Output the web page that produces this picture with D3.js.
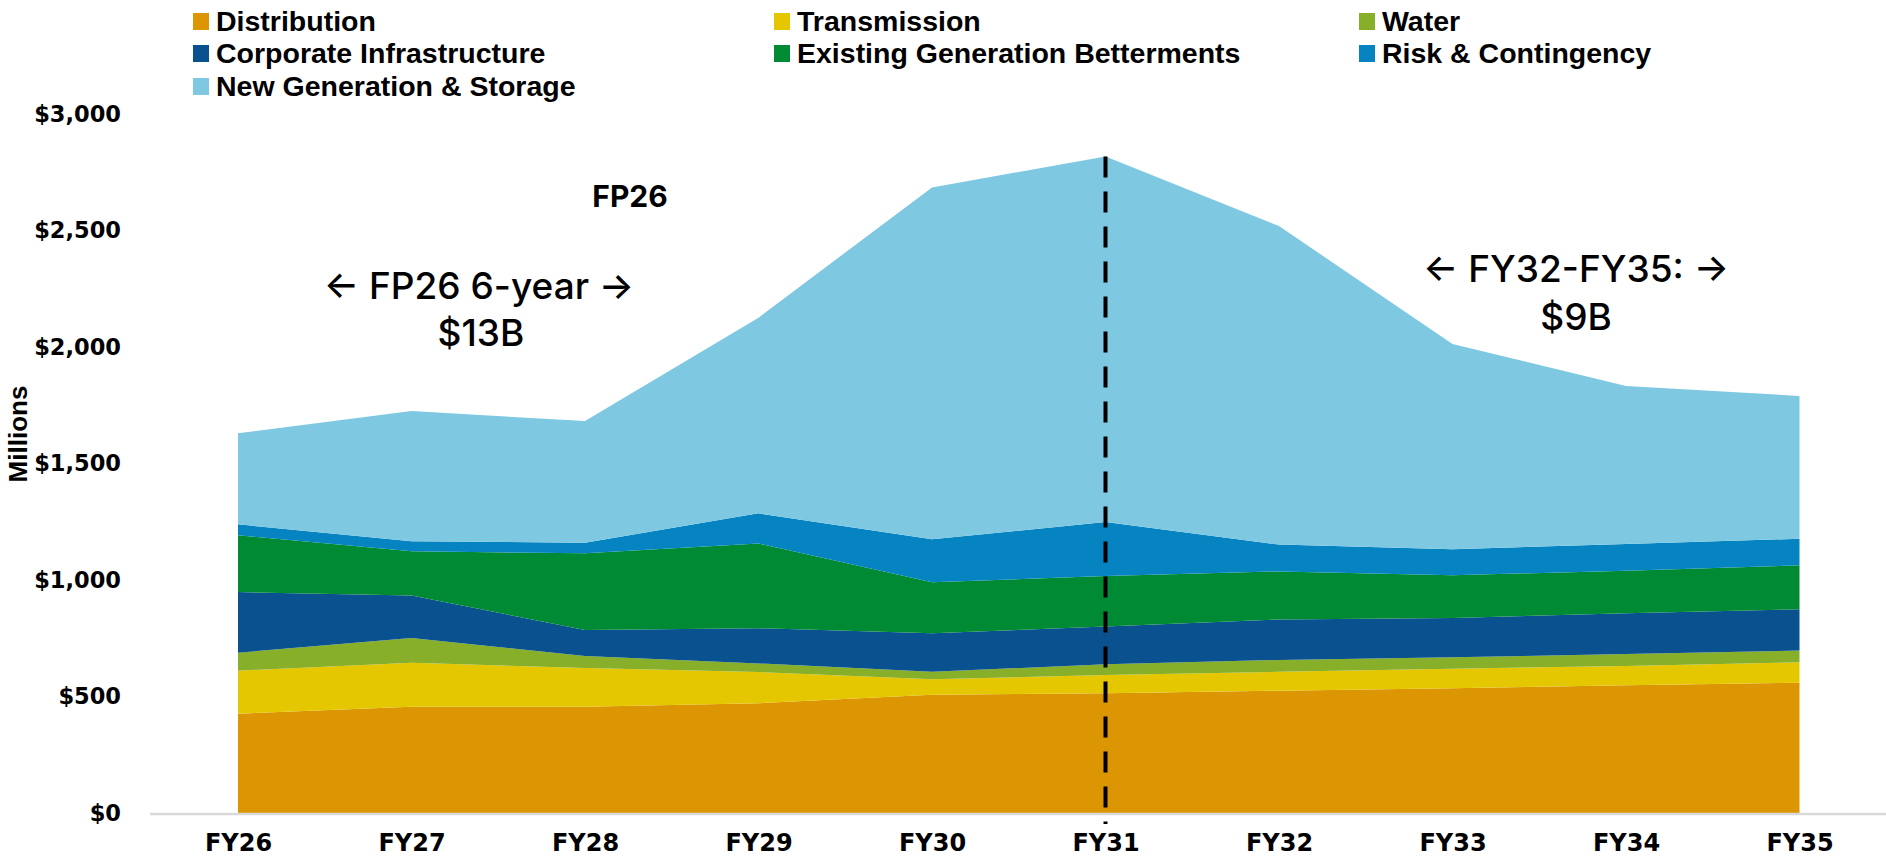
<!DOCTYPE html>
<html>
<head>
<meta charset="utf-8">
<script src="https://cdn.jsdelivr.net/npm/d3@7"></script>
<style>
  body { margin: 0; background: #fff; }
  text { fill: #000; }
</style>
</head>
<body>
<div id="chart"></div>
<script>
// categories and values (millions)
var years = ["FY26", "FY27", "FY28", "FY29", "FY30", "FY31", "FY32", "FY33", "FY34", "FY35"];
var seriesNames = ["Distribution", "Transmission", "Water", "Corporate Infrastructure",
                   "Existing Generation Betterments", "Risk & Contingency", "New Generation & Storage"];
var distribution   = [426, 456, 456, 471, 508, 514, 525, 535, 548, 559];
var transmission   = [185, 189, 166, 134, 66, 78, 81, 84, 83, 88];
var water          = [77, 106, 52, 37, 32, 46, 51, 49, 51, 50];
var corporate      = [260, 183, 111, 151, 165, 162, 174, 169, 175, 177];
var existingGen    = [244, 189, 330, 364, 219, 217, 206, 183, 183, 189];
var riskCont       = [47, 43, 45, 129, 185, 232, 115, 112, 115, 114];
var newGen         = [391, 559, 522, 840, 1510, 1569, 1367, 881, 678, 613];
var yTicks = [0, 500, 1000, 1500, 2000, 2500, 3000];
var splitYear = "FY31";

var colors = ["#dc9503", "#e5c700", "#87af2a", "#09528f", "#008a34", "#0584c1", "#7ec9e1"];

var W = 1886, H = 862;
var svg = d3.select("#chart").append("svg")
    .attr("width", W)
    .attr("height", H);

// build table for the stack
var allSeries = [distribution, transmission, water, corporate, existingGen, riskCont, newGen];
var table = years.map(function(yr, i) {
  var row = {year: yr};
  seriesNames.forEach(function(n, k) { row[n] = allSeries[k][i]; });
  return row;
});
var stacked = d3.stack().keys(seriesNames)(table);

// scales
var x = d3.scalePoint()
  .domain(years)
  .range([238, 1799.5]);
var y = d3.scaleLinear()
  .domain([0, 3000])
  .range([813, 114]);

// areas
var area = d3.area()
  .x(function(d) { return x(d.data.year); })
  .y0(function(d) { return y(d[0]); })
  .y1(function(d) { return y(d[1]); });

svg.selectAll("path.layer")
  .data(stacked)
  .enter()
  .append("path")
    .attr("class", "layer")
    .attr("d", area)
    .attr("fill", function(d, i) { return colors[i]; });

// baseline
svg.append("line")
  .attr("x1", 150)
  .attr("x2", W)
  .attr("y1", y(0) + 1)
  .attr("y2", y(0) + 1)
  .attr("stroke", "#d9d9d9")
  .attr("stroke-width", 2.5);

// Y axis
var yAxis = svg.append("g")
  .attr("transform", "translate(121,0)")
  .call(d3.axisLeft(y).tickValues(yTicks).tickSize(0).tickPadding(0)
    .tickFormat(function(d) { return "$" + d3.format(",")(d); }));
yAxis.select(".domain").remove();
yAxis.selectAll("text")
  .style("font-family", "DejaVu Sans")
  .style("font-weight", "bold")
  .style("font-size", "22.5px")
  .attr("fill", "#000");

// Y axis label
svg.append("text")
  .attr("transform", "translate(27," + 434 + ")rotate(-90)")
  .attr("text-anchor", "middle")
  .style("font-family", "Liberation Sans Narrow, Liberation Sans")
  .style("font-weight", "bold")
  .style("font-size", "26px")
  .text("Millions");

// X axis
var xAxis = svg.append("g")
  .attr("transform", "translate(0," + 834 + ")")
  .call(d3.axisBottom(x).tickSize(0).tickPadding(0));
xAxis.select(".domain").remove();
xAxis.selectAll("text")
  .style("font-family", "DejaVu Sans")
  .style("font-weight", "bold")
  .style("font-size", "24px")
  .attr("fill", "#000");

// dashed divider at FY31
var splitIdx = years.indexOf(splitYear);
svg.append("line")
  .attr("x1", x(splitYear))
  .attr("x2", x(splitYear))
  .attr("y1", y(stacked[stacked.length - 1][splitIdx][1]))
  .attr("y2", y(0) + 11)
  .attr("stroke", "#000")
  .attr("stroke-width", 4)
  .attr("stroke-dasharray", "21,14");

// legend
var legendCols = [193, 774, 1359];
var legendRows = [21, 53, 86];
var legend = svg.selectAll("g.legend")
  .data(seriesNames)
  .enter()
  .append("g")
    .attr("class", "legend")
    .attr("transform", function(d, i) {
      return "translate(" + legendCols[i % 3] + "," + legendRows[Math.floor(i / 3)] + ")";
    });
legend.append("rect")
  .attr("x", 0)
  .attr("y", -8)
  .attr("width", 16)
  .attr("height", 17)
  .attr("fill", function(d, i) { return colors[i]; });
legend.append("text")
  .attr("x", 23)
  .attr("y", 10)
  .style("font-family", "Liberation Sans")
  .style("font-weight", "bold")
  .style("font-size", "28.5px")
  .text(function(d) { return d; });

// annotations
function note(txt, cx, cy, size, weight) {
  svg.append("text")
    .attr("x", cx)
    .attr("y", cy)
    .attr("text-anchor", "middle")
    .attr("dominant-baseline", "central")
    .style("font-family", "Inter, DejaVu Sans")
    .style("font-weight", weight)
    .style("font-size", size + "px")
    .text(txt);
}
note("FP26", 630, 196, 30, 700);
note("\u2190 FP26 6-year \u2192", 479, 285, 37, 500);
note("$13B", 481, 332, 37, 500);
note("\u2190 FY32-FY35: \u2192", 1576, 268, 37, 500);
note("$9B", 1576, 316, 37, 500);
</script>
</body>
</html>
